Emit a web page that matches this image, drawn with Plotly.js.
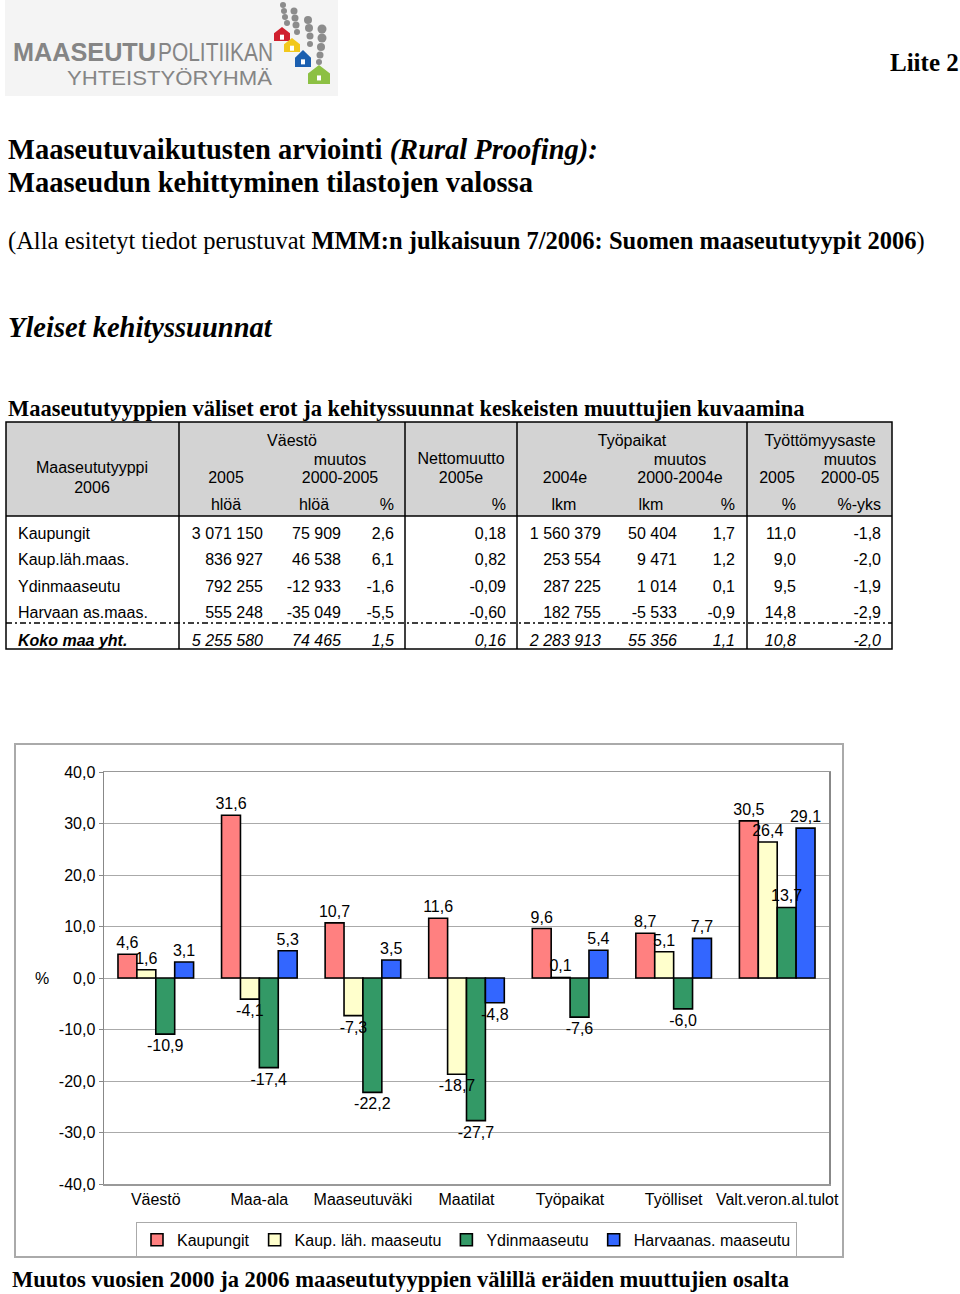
<!DOCTYPE html>
<html>
<head>
<meta charset="utf-8">
<script src="https://cdn.plot.ly/plotly-3.0.1.min.js"></script>
<style>
  body { margin: 0; background: #fff; }
  #page { position: relative; width: 960px; height: 1294px; overflow: hidden; font-family: "Liberation Serif", "Times New Roman", serif; color: #000; }
  .t { position: absolute; white-space: nowrap; line-height: 1; }
  #chartbox { position: absolute; left: 14px; top: 743px; width: 830px; height: 515px; border: 2px solid #aaa; box-sizing: border-box; }
  #chart { width: 826px; height: 511px; }
</style>
</head>
<body>
<div id="page">
  <svg id="logo" width="340" height="96" style="position:absolute;left:0;top:0">
    <rect x="5" y="0" width="333" height="96" fill="#f4f4f4"/>
    <text x="13" y="61" font-family="Liberation Sans, Arial, sans-serif" font-size="25" font-weight="bold" fill="#858585" textLength="143" lengthAdjust="spacingAndGlyphs">MAASEUTU</text>
    <text x="158" y="61" font-family="Liberation Sans, Arial, sans-serif" font-size="25" fill="#858585" textLength="115" lengthAdjust="spacingAndGlyphs">POLITIIKAN</text>
    <text x="67" y="85" font-family="Liberation Sans, Arial, sans-serif" font-size="21" fill="#858585" textLength="205" lengthAdjust="spacingAndGlyphs">YHTEISTYÖRYHMÄ</text>
    <g id="houses"></g>
  </svg>

  <div class="t" style="left:890px;top:50px;font-size:25px;font-weight:bold">Liite 2</div>
  <div class="t" style="left:8px;top:136px;font-size:28.5px;font-weight:bold">Maaseutuvaikutusten arviointi <i>(Rural Proofing):</i></div>
  <div class="t" style="left:8px;top:169px;font-size:28.5px;font-weight:bold">Maaseudun kehittyminen tilastojen valossa</div>
  <div class="t" style="left:8px;top:229px;font-size:24.5px">(Alla esitetyt tiedot perustuvat <b>MMM:n julkaisuun 7/2006: Suomen maaseututyypit 2006</b>)</div>
  <div class="t" style="left:8px;top:314px;font-size:28.5px;font-weight:bold;font-style:italic">Yleiset kehityssuunnat</div>
  <div class="t" style="left:8px;top:398px;font-size:22.5px;font-weight:bold">Maaseututyyppien väliset erot ja kehityssuunnat keskeisten muuttujien kuvaamina</div>

  <svg id="table" width="960" height="660" style="position:absolute;left:0;top:0"></svg>

  <div id="chartbox"><div id="chart"></div></div>

  <div class="t" style="left:12px;top:1269px;font-size:22.5px;font-weight:bold">Muutos vuosien 2000 ja 2006 maaseututyyppien välillä eräiden muuttujien osalta</div>
</div>

<script>
// ---- table data ----
var rowLabels = ['Kaupungit', 'Kaup.läh.maas.', 'Ydinmaaseutu', 'Harvaan as.maas.', 'Koko maa yht.'];
var vaesto2005 = ['3 071 150', '836 927', '792 255', '555 248', '5 255 580'];
var vaestoMuutos = ['75 909', '46 538', '-12 933', '-35 049', '74 465'];
var vaestoPct = ['2,6', '6,1', '-1,6', '-5,5', '1,5'];
var nettomuutto = ['0,18', '0,82', '-0,09', '-0,60', '0,16'];
var tyopaikat2004 = ['1 560 379', '253 554', '287 225', '182 755', '2 283 913'];
var tyopaikatMuutos = ['50 404', '9 471', '1 014', '-5 533', '55 356'];
var tyopaikatPct = ['1,7', '1,2', '0,1', '-0,9', '1,1'];
var tyottomyys2005 = ['11,0', '9,0', '9,5', '14,8', '10,8'];
var tyottomyysMuutos = ['-1,8', '-2,0', '-1,9', '-2,9', '-2,0'];

// ---- chart data ----
var categories = ['Väestö', 'Maa-ala', 'Maaseutuväki', 'Maatilat', 'Työpaikat', 'Työlliset', 'Valt.veron.al.tulot'];
var seriesNames = ['Kaupungit', 'Kaup. läh. maaseutu', 'Ydinmaaseutu', 'Harvaanas. maaseutu'];
var kaupungit = [4.6, 31.6, 10.7, 11.6, 9.6, 8.7, 30.5];
var kaupLahMaaseutu = [1.6, -4.1, -7.3, -18.7, 0.1, 5.1, 26.4];
var ydinmaaseutu = [-10.9, -17.4, -22.2, -27.7, -7.6, -6.0, 13.7];
var harvaanMaaseutu = [3.1, 5.3, 3.5, -4.8, 5.4, 7.7, 29.1];
var yTickVals = [-40, -30, -20, -10, 0, 10, 20, 30, 40];
var yTickText = ['-40,0', '-30,0', '-20,0', '-10,0', '0,0', '10,0', '20,0', '30,0', '40,0'];
var seriesColors = ['#ff8080', '#ffffcc', '#339966', '#3366ff'];

// logo houses
var NS = 'http://www.w3.org/2000/svg';
function el(parent, tag, attrs, txt) {
  var e = document.createElementNS(NS, tag);
  for (var k in attrs) e.setAttribute(k, attrs[k]);
  if (txt !== undefined) e.textContent = txt;
  parent.appendChild(e);
  return e;
}
var houses = document.getElementById('houses');
var houseDefs = [
  {x: 274, y: 27, w: 16, h: 14, c: '#d0202e', dots: [[283,5,3],[284,11,3],[285,17,3],[287,23,3]]},
  {x: 284, y: 38, w: 16, h: 14, c: '#f2c81c', dots: [[294,11,3.5],[295,18,3.5],[296,25,3.5],[297,32,3]]},
  {x: 295, y: 50, w: 16, h: 17, c: '#1b5fb0', dots: [[308,20,4],[309,28,4],[310,36,3.5],[310,44,3]]},
  {x: 308, y: 65, w: 22, h: 19, c: '#8cc043', dots: [[322,29,4.5],[322,38,4.5],[321,47,4],[320,55,3.5],[319,62,3]]}
];
houseDefs.forEach(function (h) {
  h.dots.forEach(function (d) { el(houses, 'circle', {cx: d[0], cy: d[1], r: d[2], fill: '#8c8c8c'}); });
  var p = [[h.x, h.y + h.h * 0.45], [h.x + h.w / 2, h.y], [h.x + h.w, h.y + h.h * 0.45], [h.x + h.w, h.y + h.h], [h.x, h.y + h.h]];
  el(houses, 'polygon', {points: p.map(function (q) { return q.join(','); }).join(' '), fill: h.c});
  el(houses, 'rect', {x: h.x + h.w / 2 - 2, y: h.y + h.h * 0.55, width: 4, height: 5, fill: '#fff'});
});

// ---- table drawing ----
var tbl = document.getElementById('table');
var tf = 'Liberation Sans, Arial, sans-serif';
el(tbl, 'rect', {x: 6, y: 422, width: 886, height: 94, fill: '#d3d3d3'});
function txt(s, x, y, anchor, extra) {
  var a = {x: x, y: y, 'text-anchor': anchor, 'dominant-baseline': 'central', 'font-family': tf, 'font-size': 16, fill: '#000'};
  for (var k in extra) a[k] = extra[k];
  el(tbl, 'text', a, s);
}
var headers = [
  ['Maaseututyyppi', 92, 467, 'middle'], ['2006', 92, 487, 'middle'],
  ['Väestö', 292, 440, 'middle'], ['muutos', 340, 459, 'middle'], ['2000-2005', 340, 477, 'middle'], ['2005', 226, 477, 'middle'],
  ['Nettomuutto', 461, 458, 'middle'], ['2005e', 461, 477, 'middle'],
  ['Työpaikat', 632, 440, 'middle'], ['muutos', 680, 459, 'middle'], ['2000-2004e', 680, 477, 'middle'], ['2004e', 565, 477, 'middle'],
  ['Työttömyysaste', 820, 440, 'middle'], ['muutos', 850, 459, 'middle'], ['2000-05', 850, 477, 'middle'], ['2005', 777, 477, 'middle'],
  ['hlöä', 226, 504, 'middle'], ['hlöä', 314, 504, 'middle'], ['%', 394, 504, 'end'], ['%', 506, 504, 'end'],
  ['lkm', 564, 504, 'middle'], ['lkm', 651, 504, 'middle'], ['%', 735, 504, 'end'], ['%', 796, 504, 'end'], ['%-yks', 881, 504, 'end']
];
headers.forEach(function (h) { txt(h[0], h[1], h[2], h[3]); });

var tableCols = [vaesto2005, vaestoMuutos, vaestoPct, nettomuutto, tyopaikat2004, tyopaikatMuutos, tyopaikatPct, tyottomyys2005, tyottomyysMuutos];
var colRight = [263, 341, 394, 506, 601, 677, 735, 796, 881];
var rowY = [533, 559, 586, 612, 640];
rowLabels.forEach(function (lab, i) {
  var total = i === rowLabels.length - 1;
  txt(lab, 18, rowY[i], 'start', total ? {'font-weight': 'bold', 'font-style': 'italic'} : {});
  tableCols.forEach(function (col, j) {
    txt(col[i], colRight[j], rowY[i], 'end', total ? {'font-style': 'italic'} : {});
  });
});
[179, 405, 517, 747].forEach(function (x) {
  el(tbl, 'line', {x1: x, y1: 422, x2: x, y2: 649, stroke: '#000', 'stroke-width': 1.5});
});
el(tbl, 'line', {x1: 6, y1: 516, x2: 892, y2: 516, stroke: '#000', 'stroke-width': 1.5});
el(tbl, 'line', {x1: 6, y1: 623, x2: 892, y2: 623, stroke: '#000', 'stroke-width': 1.5, 'stroke-dasharray': '6 3 2 3'});
el(tbl, 'rect', {x: 6, y: 422, width: 886, height: 227, fill: 'none', stroke: '#000', 'stroke-width': 1.5});

// ---- chart ----
var seriesValues = [kaupungit, kaupLahMaaseutu, ydinmaaseutu, harvaanMaaseutu];
var data = seriesValues.map(function (vals, i) {
  return {
    type: 'bar',
    x: categories,
    y: vals,
    name: seriesNames[i],
    offsetgroup: String(i),
    marker: {color: seriesColors[i], line: {color: '#000', width: 1.6}},
    hoverinfo: 'skip'
  };
});
// labels on top of every bar: transparent copies in the same offset group
seriesValues.forEach(function (vals, i) {
  data.push({
    type: 'bar',
    x: categories,
    y: vals,
    name: seriesNames[i],
    offsetgroup: String(i),
    showlegend: false,
    marker: {color: 'rgba(0,0,0,0)', line: {width: 0}},
    text: vals.map(function (v) { return v.toFixed(1).replace('.', ','); }),
    textposition: 'outside',
    textfont: {size: 16, color: '#000'},
    constraintext: 'none',
    cliponaxis: false,
    hoverinfo: 'skip'
  });
});

var layout = {
  width: 826,
  height: 511,
  margin: {l: 88, r: 13, t: 27, b: 72, autoexpand: false},
  font: {family: 'Liberation Sans, Arial, sans-serif', size: 16, color: '#000'},
  barmode: 'group',
  bargap: 0.27,
  bargroupgap: 0,
  plot_bgcolor: '#fff',
  paper_bgcolor: '#fff',
  showlegend: true,
  legend: {
    orientation: 'h', x: 0.5, xanchor: 'center', y: -0.092, yanchor: 'top',
    bordercolor: '#aaa', borderwidth: 1, font: {size: 16}, itemwidth: 30
  },
  xaxis: {
    showline: true, mirror: true, linecolor: '#999', linewidth: 1.5,
    ticks: '', tickfont: {size: 16}, fixedrange: true
  },
  yaxis: {
    range: [-40, 40], tickmode: 'array', tickvals: yTickVals, ticktext: yTickText,
    showgrid: true, gridcolor: '#aaa', gridwidth: 1,
    zeroline: true, zerolinecolor: '#aaa', zerolinewidth: 1,
    showline: true, mirror: true, linecolor: '#888', linewidth: 1.5,
    ticks: 'outside', ticklen: 4, tickcolor: '#888',
    tickfont: {size: 16}, fixedrange: true
  },
  annotations: [{
    text: '%', xref: 'paper', yref: 'y', x: -0.0855, y: 0,
    xanchor: 'center', yanchor: 'middle', showarrow: false, font: {size: 16}
  }]
};

Plotly.newPlot('chart', data, layout, {displayModeBar: false, staticPlot: true});
</script>
</body>
</html>
